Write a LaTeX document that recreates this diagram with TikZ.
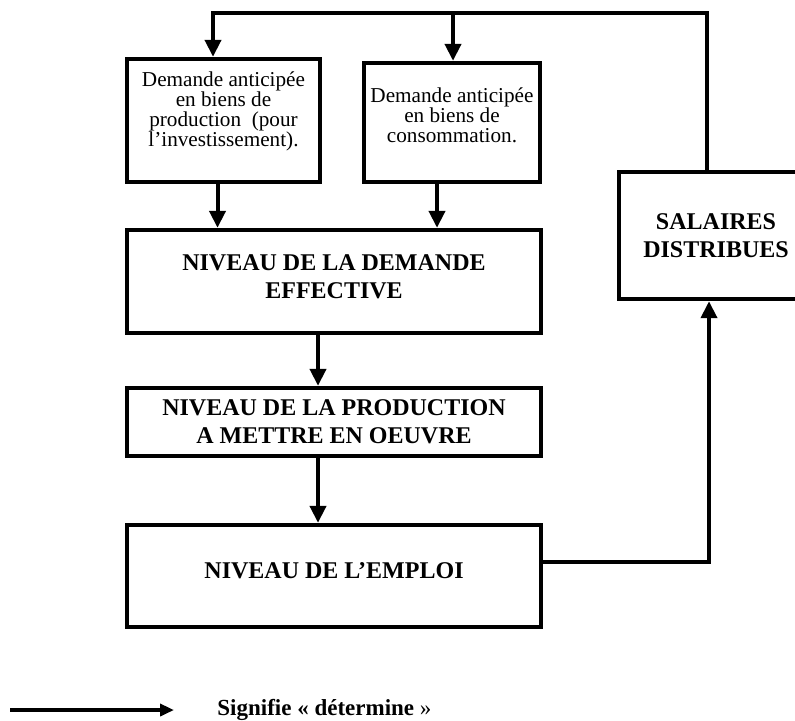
\documentclass[tikz,border=0pt]{standalone}
\usepackage{fontspec}
\setmainfont{Liberation Serif}
\usetikzlibrary{arrows.meta}
\begin{document}
\begin{tikzpicture}[x=0.5pt, y=-0.5pt]
	\tikzstyle{bloc}=[rectangle, draw=black, line width=2.2pt, inner sep=0pt, align=center]
	\tikzstyle{petit}=[font=\fontsize{10.6}{10}\selectfont]
	\tikzstyle{gras}=[font=\bfseries\fontsize{12}{13.8}\selectfont]
	\tikzstyle{trait}=[line width=2pt]
	\tikzstyle{fleche}=[line width=2pt, -{Triangle[length=8.5pt, width=8pt]}]
	\useasboundingbox (0, 0) rectangle (795, 720);

	\draw node[bloc, petit, text depth=11pt, minimum width=96.5pt, minimum height=61.5pt] at (223.5, 120.5) (dprod) {Demande anticipée\\en biens de\\production~ (pour\\l’investissement).};
	\draw node[bloc, petit, text depth=7pt, minimum width=88pt, minimum height=59.5pt] at (452, 122.5) (dcons) {Demande anticipée\\en biens de\\consommation.};
	\draw node[bloc, gras, text depth=5pt, minimum width=207pt, minimum height=51.5pt] at (334, 281.5) (nde) {NIVEAU DE LA DEMANDE\\EFFECTIVE};
	\draw node[bloc, gras, minimum width=207pt, minimum height=34pt] at (334, 422) (prod) {NIVEAU DE LA PRODUCTION\\A METTRE EN OEUVRE};
	\draw node[bloc, gras, text depth=6pt, minimum width=207pt, minimum height=51pt] at (334, 576) (emp) {NIVEAU DE L’EMPLOI};
	\draw node[bloc, gras, minimum width=97pt, minimum height=63.5pt] at (716, 235.5) (sal) {SALAIRES\\DISTRIBUES};

	\coordinate (hautD) at (707, 13);
	\coordinate (hautM) at (453, 13);
	\coordinate (hautG) at (213, 13);

	\draw [trait] ([xshift=-4.5pt]sal.north) -- (hautD) -- ([xshift=-1pt]hautG);
	\draw [fleche] (hautG) -- (hautG |- dprod.north);
	\draw [fleche] (hautM) -- (hautM |- dcons.north);

	\draw [fleche] ([xshift=-3pt]dprod.south) -- ([xshift=-3pt]dprod.south |- nde.north);
	\draw [fleche] ([xshift=-7.5pt]dcons.south) -- ([xshift=-7.5pt]dcons.south |- nde.north);
	\draw [fleche] ([xshift=-8pt]nde.south) -- ([xshift=-8pt]prod.north);
	\draw [fleche] ([xshift=-8pt]prod.south) -- ([xshift=-8pt]emp.north);
	\draw [fleche] ([yshift=7pt]emp.east) -| ([xshift=-3.5pt]sal.south);

	% legende
	\coordinate (legA) at (10, 710);
	\coordinate (legB) at (174, 710);
	\draw [line width=2pt, -{Triangle[length=7pt, width=6pt]}] (legA) -- (legB);
	\draw node[anchor=west, inner sep=0pt, font=\fontsize{11.5}{13}\selectfont] at (217, 710) (leg) {\textbf{Signifie « détermine} »};
\end{tikzpicture}
\end{document}
